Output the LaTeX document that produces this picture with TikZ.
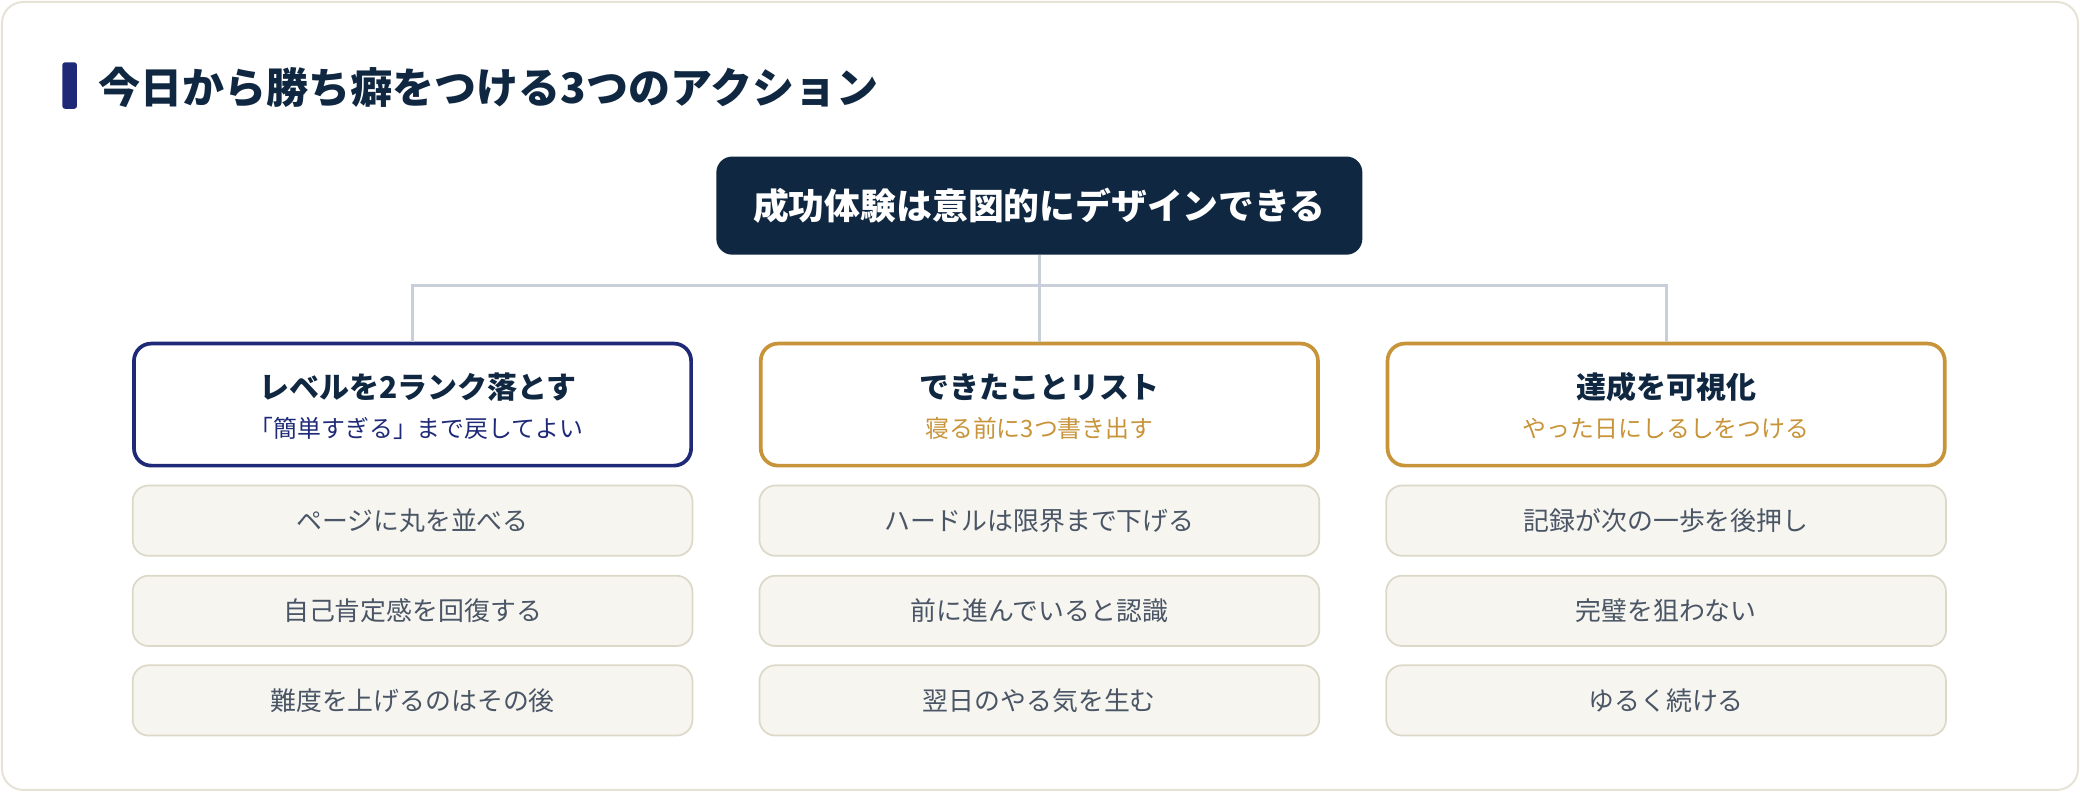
\documentclass[tikz,border=0pt]{standalone}
\usepackage{fontspec}
\setmainfont{Noto Sans CJK JP}
\definecolor{navy}{HTML}{0F2740}
\definecolor{accent}{HTML}{1E2A78}
\definecolor{gold}{HTML}{C8943A}
\definecolor{conn}{HTML}{C9CFD9}
\definecolor{itemfill}{HTML}{F6F5F0}
\definecolor{itemline}{HTML}{DDD9C8}
\definecolor{itemtext}{HTML}{4A5565}
\definecolor{framecol}{HTML}{E6E3D6}
\begin{document}
\begin{tikzpicture}[x=1pt,y=-1pt,
  card/.style={draw=#1, line width=2.8pt, fill=white, rounded corners=13pt, minimum width=420pt, minimum height=92pt, inner sep=0pt},
  item/.style={draw=itemline, line width=1.3pt, fill=itemfill, rounded corners=12pt, minimum width=422pt, minimum height=53pt, inner sep=0pt, font=\fontsize{19.5}{23}\selectfont, text=itemtext},
  cardtitle/.style={inner sep=0pt, text=navy, font=\fontsize{22.6}{26}\selectfont\bfseries},
  cardsub/.style={inner sep=0pt, text=#1, font=\fontsize{18}{21}\selectfont},
  connline/.style={draw=conn, line width=2.4pt},
]
\useasboundingbox (0,0) rectangle (1568,597);
\draw[framecol, line width=1.5pt, fill=white, rounded corners=16pt] (1.5,1.5) rectangle (1566.5,595.5);
\fill[accent, rounded corners=2pt] (47,47) rectangle (58,82);
\node[anchor=west, font=\fontsize{31.7}{36}\selectfont\bfseries, text=navy, inner sep=0pt] (title) at (74,66) {今日から勝ち癖をつける3つのアクション};
\node[fill=navy, rounded corners=12pt, minimum width=487pt, minimum height=74pt, inner sep=0pt, text=white, font=\fontsize{27}{32}\selectfont\bfseries] (root) at (783.5,155) {成功体験は意図的にデザインできる};

% cards
\node[card=accent] (c1) at (311,305) {};
\node[card=gold] (c2) at (783.5,305) {};
\node[card=gold] (c3) at (1256,305) {};

\node[cardtitle] (c1t) at (315,292) {レベルを2ランク落とす};
\node[cardsub=accent] (c1s) at (314,323) {「簡単すぎる」まで戻してよい};
\node[cardtitle] (c2t) at (783.5,292) {できたことリスト};
\node[cardsub=gold] (c2s) at (783.5,323) {寝る前に3つ書き出す};
\node[cardtitle] (c3t) at (1256,292) {達成を可視化};
\node[cardsub=gold] (c3s) at (1256,323) {やった日にしるしをつける};

% connectors
\coordinate (bus) at (783.5,215);
\draw[connline] (root.south) -- (bus);
\draw[connline] (c1.north) |- (bus) -| (c3.north);
\draw[connline] (bus) -- (c2.north);

% items
\node[item] (i11) at (311,392.5) {ページに丸を並べる};
\node[item] (i12) at (311,460.5) {自己肯定感を回復する};
\node[item] (i13) at (311,528) {難度を上げるのはその後};
\node[item] (i21) at (783.5,392.5) {ハードルは限界まで下げる};
\node[item] (i22) at (783.5,460.5) {前に進んでいると認識};
\node[item] (i23) at (783.5,528) {翌日のやる気を生む};
\node[item] (i31) at (1256,392.5) {記録が次の一歩を後押し};
\node[item] (i32) at (1256,460.5) {完璧を狙わない};
\node[item] (i33) at (1256,528) {ゆるく続ける};
\end{tikzpicture}
\end{document}
